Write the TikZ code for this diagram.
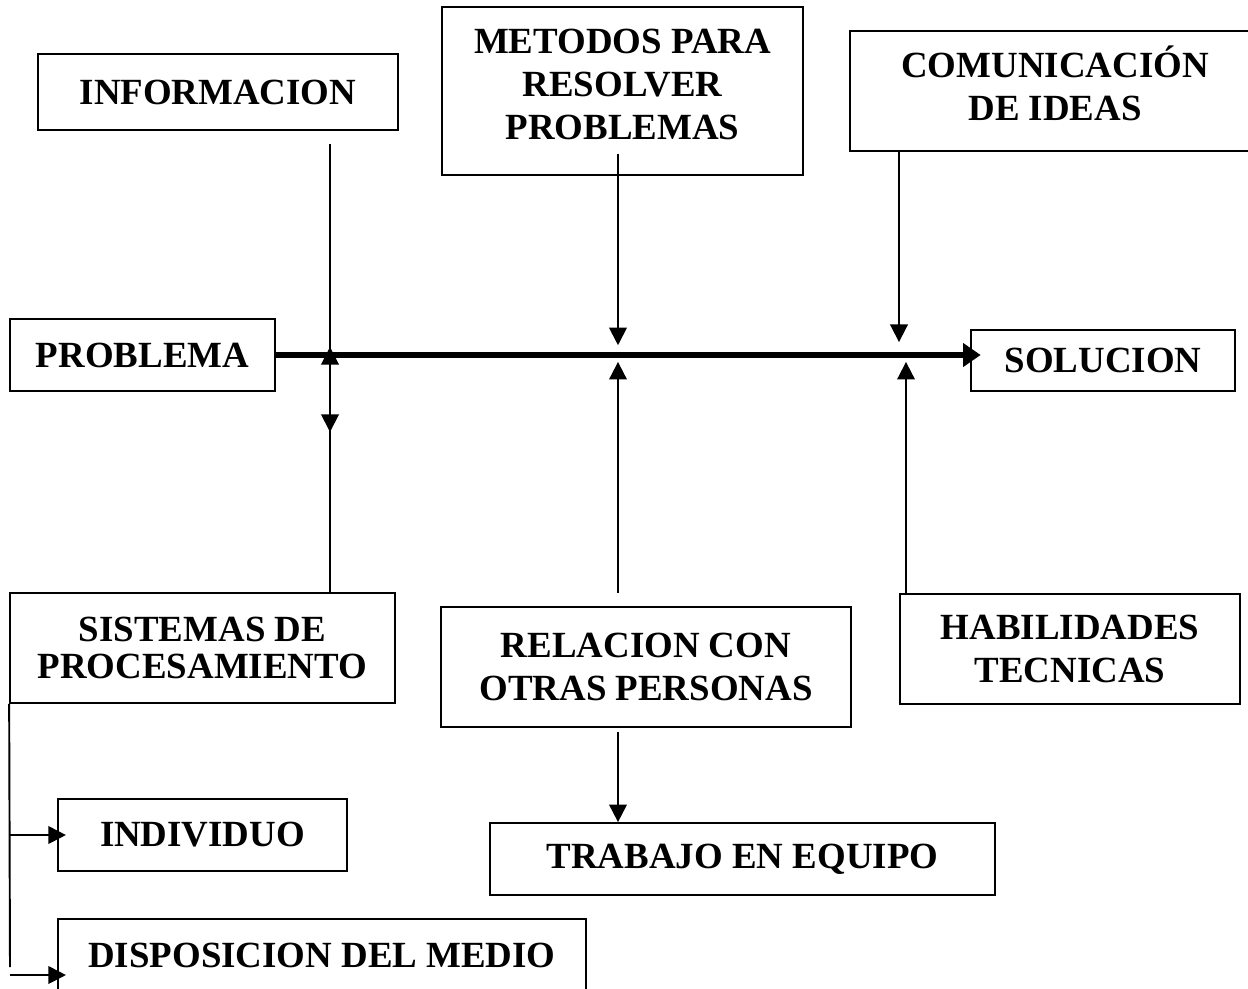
\documentclass[tikz,border=0pt]{standalone}
\usepackage{fontspec}
\setmainfont{Liberation Serif}
\usetikzlibrary{arrows.meta}
\tikzstyle{caja} = [rectangle, draw=black, line width=1pt, align=center, inner sep=0pt, font=\bfseries\fontsize{21}{24.4}\selectfont]
\tikzstyle{linea} = [draw=black, line width=1.1pt]
\tikzstyle{flecha} = [linea, -{Triangle[width=10pt,length=10pt]}]
\tikzstyle{eje} = [draw=black, line width=3.4pt, -{Triangle[width=13pt,length=10pt]}]

\begin{document}
\begin{tikzpicture}[x=0.02cm, y=-0.02cm]
    \useasboundingbox (0,0) rectangle (1248,988);
    \clip (0,0) rectangle (1248,988);

    \node [caja, minimum width=7.2cm, minimum height=1.52cm] (info) at (218,92) {INFORMACION};
    \node [caja, minimum width=7.22cm, minimum height=3.36cm, text depth=8pt] (metodos) at (622.5,91) {METODOS PARA\\RESOLVER\\PROBLEMAS};
    \node [caja, minimum width=8.2cm, minimum height=2.4cm, text depth=9pt] (comunicacion) at (1055,91) {COMUNICACIÓN\\DE IDEAS};

    \node [caja, minimum width=5.3cm, minimum height=1.44cm] (problema) at (142.5,355) {PROBLEMA};
    \node [caja, minimum width=5.28cm, minimum height=1.22cm] (solucion) at (1103,360.5) {SOLUCION};

    \node [caja, minimum width=7.7cm, minimum height=2.2cm, font=\bfseries\fontsize{21}{21.5}\selectfont] (sistemas) at (202.5,648) {SISTEMAS DE\\PROCESAMIENTO};
    \node [caja, minimum width=8.2cm, minimum height=2.4cm] (relacion) at (646,667) {RELACION CON\\OTRAS PERSONAS};
    \node [caja, minimum width=6.8cm, minimum height=2.2cm] (habilidades) at (1070,649) {HABILIDADES\\TECNICAS};

    \node [caja, minimum width=10.1cm, minimum height=1.44cm] (trabajo) at (742.5,859) {TRABAJO EN EQUIPO};
    \node [caja, minimum width=5.78cm, minimum height=1.44cm] (individuo) at (202.5,835) {INDIVIDUO};
    \node [caja, minimum width=10.56cm, minimum height=1.44cm] (disposicion) at (322,955) {DISPOSICION DEL MEDIO};

    \coordinate (cruceA) at (330,354);
    \coordinate (cruceB) at (618,354);
    \coordinate (cruceC) at (899,354);
    \coordinate (cruceD) at (906,354);
    \coordinate (infoA) at (330,144);
    \coordinate (infoB) at (330,432);
    \coordinate (metodosA) at (618,154);
    \coordinate (relacionA) at (618,593);
    \coordinate (relacionB) at (618,732);
    \coordinate (ramaA) at (10,967);
    \coordinate (ramaB) at (10,975);

    \draw [eje, shorten >=-6pt] (problema.east) -- (problema.east -| solucion.west);

    \draw [flecha] (infoA) -- (infoB);
    \draw [flecha, shorten >=-4pt] (sistemas.north -| cruceA) -- (cruceA);
    \draw [flecha, shorten >=5pt] (metodosA) -- (cruceB);
    \draw [flecha, shorten >=4.5pt] (relacionA) -- (cruceB);
    \draw [flecha] (relacionB) -- (relacionB |- trabajo.north);
    \draw [flecha, shorten >=6.8pt] (comunicacion.south -| cruceC) -- (cruceC);
    \draw [flecha, shorten >=4.5pt] (habilidades.north -| cruceD) -- (cruceD);

    \draw [linea] (sistemas.south west) -- (ramaA);
    \draw [flecha, shorten >=-5pt] (sistemas.south west |- individuo.west) -- (individuo.west);
    \draw [flecha, shorten >=-5pt] (ramaB) -- (ramaB -| disposicion.west);
\end{tikzpicture}
\end{document}
